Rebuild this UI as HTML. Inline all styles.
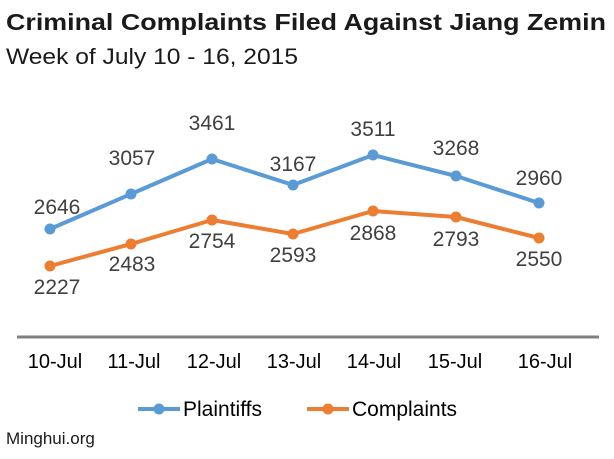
<!DOCTYPE html>
<html><head><meta charset="utf-8"><style>
html,body{margin:0;padding:0;background:#fff;}
svg{display:block;}
text{font-family:"Liberation Sans",sans-serif;}
</style></head><body>
<svg width="614" height="459" viewBox="0 0 614 459" xmlns="http://www.w3.org/2000/svg">
<text x="6" y="30" font-size="23" font-weight="bold" fill="#1a1a1a" textLength="600" lengthAdjust="spacingAndGlyphs">Criminal Complaints Filed Against Jiang Zemin</text>
<text x="6" y="64" font-size="22" fill="#1a1a1a" textLength="292" lengthAdjust="spacingAndGlyphs">Week of July 10 - 16, 2015</text>
<line x1="17" y1="337" x2="599" y2="337" stroke="#7f7f7f" stroke-width="3"/>
<polyline fill="none" stroke="#5b9bd5" stroke-width="4" stroke-linejoin="round" points="50,229 131,194 212,159 293,185 373,155 456,176 539,203"/>
<polyline fill="none" stroke="#ed7d31" stroke-width="4" stroke-linejoin="round" points="50,266 131,244 212,220 293,234 373,211 456,217 539,238"/>
<g fill="#5b9bd5"><circle cx="50" cy="229" r="5.5"/><circle cx="131" cy="194" r="5.5"/><circle cx="212" cy="159" r="5.5"/><circle cx="293" cy="185" r="5.5"/><circle cx="373" cy="155" r="5.5"/><circle cx="456" cy="176" r="5.5"/><circle cx="539" cy="203" r="5.5"/></g>
<g fill="#ed7d31"><circle cx="50" cy="266" r="5.5"/><circle cx="131" cy="244" r="5.5"/><circle cx="212" cy="220" r="5.5"/><circle cx="293" cy="234" r="5.5"/><circle cx="373" cy="211" r="5.5"/><circle cx="456" cy="217" r="5.5"/><circle cx="539" cy="238" r="5.5"/></g>
<g font-size="21" fill="#404040" text-anchor="middle">
<text x="57" y="214">2646</text><text x="132" y="165">3057</text><text x="212" y="130">3461</text><text x="293" y="171">3167</text><text x="373" y="136">3511</text><text x="456" y="155">3268</text><text x="539" y="185">2960</text>
<text x="57" y="294">2227</text><text x="132" y="271">2483</text><text x="212" y="248">2754</text><text x="293" y="262">2593</text><text x="373" y="240">2868</text><text x="456" y="246">2793</text><text x="539" y="266">2550</text>
</g>
<g font-size="20" fill="#000" text-anchor="middle">
<text x="55" y="368">10-Jul</text><text x="134" y="368">11-Jul</text><text x="214" y="368">12-Jul</text><text x="294" y="368">13-Jul</text><text x="374" y="368">14-Jul</text><text x="455" y="368">15-Jul</text><text x="545" y="368">16-Jul</text>
</g>
<line x1="138" y1="409" x2="180" y2="409" stroke="#5b9bd5" stroke-width="4"/><circle cx="159" cy="409" r="5.5" fill="#5b9bd5"/>
<text x="183" y="416" font-size="21" fill="#000">Plaintiffs</text>
<line x1="307" y1="409" x2="349" y2="409" stroke="#ed7d31" stroke-width="4"/><circle cx="328" cy="409" r="5.5" fill="#ed7d31"/>
<text x="352" y="416" font-size="21" fill="#000">Complaints</text>
<text x="6" y="444" font-size="17" fill="#1a1a1a">Minghui.org</text>
</svg>
</body></html>
